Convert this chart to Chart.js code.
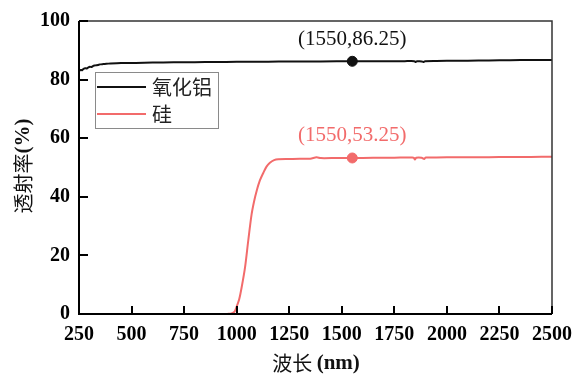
<!DOCTYPE html>
<html><head><meta charset="utf-8">
<script src="https://cdn.jsdelivr.net/npm/chart.js@4/dist/chart.umd.min.js"></script>
<style>html,body{margin:0;padding:0;background:#fff}#wrap{width:588px;height:389px}</style>
</head><body><div id="wrap"><canvas id="c" width="588" height="389"></canvas></div>
<script>
// ---- data ----
const seriesNames = ['氧化铝', '硅'];
const aluminaWavelength = [250,258,265,272,280,288,295,302,310,318,325,332,340,350,365,380,400,430,470,520,600,700,800,900,1000,1100,1200,1300,1400,1550,1700,1800,1845,1852,1858,1866,1880,1888,1896,1950,2050,2150,2250,2350,2450,2500];
const aluminaValues     = [83.0,83.3,83.2,83.7,83.9,83.8,84.2,84.4,84.3,84.7,84.8,84.9,85.0,85.2,85.3,85.4,85.5,85.6,85.65,85.7,85.8,85.9,85.95,86.0,86.05,86.1,86.15,86.2,86.2,86.25,86.3,86.3,86.3,86.0,86.3,86.25,86.2,86.0,86.3,86.35,86.45,86.5,86.6,86.65,86.7,86.7];
const siliconWavelength = [955,975,990,1000,1012,1024,1040,1055,1071,1083,1095,1110,1127,1142,1158,1178,1198,1250,1300,1350,1380,1400,1480,1550,1650,1750,1835,1843,1848,1854,1880,1892,1898,1906,1950,2050,2150,2250,2350,2450,2500];
const siliconValues     = [0,0.2,0.8,2.5,5.0,9.2,16.0,25.0,34.0,38.5,42.0,45.5,48.2,50.3,51.6,52.5,52.8,52.9,53.0,53.0,53.5,53.2,53.25,53.25,53.3,53.35,53.4,53.3,52.7,53.3,53.3,52.9,53.4,53.4,53.45,53.5,53.5,53.55,53.6,53.65,53.7];
const markedWavelength = [1550, 1550];
const markedValues = [86.25, 53.25];
const markedLabels = ['(1550,86.25)', '(1550,53.25)'];
const xTicks = [250,500,750,1000,1250,1500,1750,2000,2250,2500];
const yTicks = [0,20,40,60,80,100];

const BLACK = '#111111';
const RED = '#f26b6b';
const serif = "'Liberation Serif','Times New Roman',serif";
const cjk = "'Noto Sans CJK SC','Noto Sans CJK JP',sans-serif";

const toXY = (xs, ys) => xs.map((x, i) => ({x: x, y: ys[i]}));

const framePlugin = {
  id: 'frame',
  afterDraw(chart) {
    const ctx = chart.ctx, a = chart.chartArea;
    const xs = chart.scales.x, ys = chart.scales.y;
    ctx.save();
    // frame
    ctx.lineWidth = 2; ctx.strokeStyle = '#000';
    ctx.beginPath(); ctx.moveTo(a.left, a.top); ctx.lineTo(a.left, a.bottom); ctx.lineTo(a.right, a.bottom); ctx.stroke();
    ctx.lineWidth = 1.5; ctx.strokeStyle = '#333';
    ctx.beginPath(); ctx.moveTo(a.left, a.top); ctx.lineTo(a.right, a.top); ctx.lineTo(a.right, a.bottom); ctx.stroke();
    // inward tick marks
    ctx.fillStyle = '#000';
    for (const v of xTicks) {
      const px = Math.round(xs.getPixelForValue(v));
      ctx.fillRect(px - 1, a.bottom - 8, 2, 8);
    }
    for (const v of yTicks) {
      const py = Math.round(ys.getPixelForValue(v));
      ctx.fillRect(a.left, py - 1, 9, 2);
    }

    // point annotations
    ctx.textAlign = 'center'; ctx.textBaseline = 'middle';
    ctx.font = '21px ' + serif;
    const colors = [BLACK, RED];
    markedLabels.forEach((t, i) => {
      ctx.fillStyle = colors[i];
      ctx.fillText(t, xs.getPixelForValue(markedWavelength[i]), ys.getPixelForValue(markedValues[i]) - 22);
    });

    // legend
    const lx = 95, ly = 72, lw = 123, lh = 56;
    ctx.fillStyle = '#fff'; ctx.fillRect(lx, ly, lw, lh);
    ctx.strokeStyle = '#8a8a8a'; ctx.lineWidth = 1;
    ctx.strokeRect(lx + 0.5, ly + 0.5, lw, lh);
    const ds = chart.data.datasets;
    [0, 1].forEach(i => {
      const y = ly + 15 + i * 27;
      ctx.strokeStyle = ds[i].borderColor; ctx.lineWidth = ds[i].borderWidth;
      ctx.beginPath(); ctx.moveTo(lx + 2, y); ctx.lineTo(lx + 51, y); ctx.stroke();
      ctx.fillStyle = '#222'; ctx.textAlign = 'left'; ctx.textBaseline = 'middle';
      ctx.font = '20px ' + cjk;
      ctx.fillText(ds[i].label, lx + 57, y);
    });

    // x axis title: 波长 (nm)
    ctx.fillStyle = '#111'; ctx.textBaseline = 'middle'; ctx.textAlign = 'left';
    ctx.font = '20px ' + cjk;
    const p1 = '波长 ';
    const w1 = ctx.measureText(p1).width;
    ctx.font = 'bold 21px ' + serif;
    const w2 = ctx.measureText('(nm)').width;
    let sx = 316 - (w1 + w2) / 2;
    ctx.font = '20px ' + cjk; ctx.fillText(p1, sx, 363);
    ctx.font = 'bold 21px ' + serif; ctx.fillText('(nm)', sx + w1, 364);

    // y axis title: 透射率(%)
    ctx.translate(23, 166); ctx.rotate(-Math.PI / 2);
    ctx.font = '20px ' + cjk;
    const q1 = '透射率'; const v1 = ctx.measureText(q1).width;
    ctx.font = 'bold 21px ' + serif;
    const v2 = ctx.measureText('(%)').width;
    let sy = -(v1 + v2) / 2;
    ctx.font = '20px ' + cjk; ctx.fillText(q1, sy, 0);
    ctx.font = 'bold 21px ' + serif; ctx.fillText('(%)', sy + v1, 1);
    ctx.restore();
  }
};

new Chart(document.getElementById('c'), {
  type: 'line',
  data: {
    datasets: [
      {label: seriesNames[0], data: toXY(aluminaWavelength, aluminaValues), borderColor: BLACK, borderWidth: 2, pointRadius: 0, tension: 0.2, order: 2},
      {label: seriesNames[1], data: toXY(siliconWavelength, siliconValues), borderColor: RED, borderWidth: 2, pointRadius: 0, tension: 0.3, order: 2},
      {label: 'marks', type: 'scatter', data: toXY(markedWavelength, markedValues), pointRadius: 5, pointBackgroundColor: [BLACK, RED], pointBorderColor: [BLACK, RED], showLine: false, order: 1}
    ]
  },
  options: {
    responsive: false, animation: false,
    layout: {padding: {left: 0, top: 18, right: 36, bottom: 0}},
    plugins: {legend: {display: false}, tooltip: {enabled: false}},
    scales: {
      x: {type: 'linear', min: 250, max: 2500,
        afterBuildTicks: s => { s.ticks = xTicks.map(v => ({value: v})); },
        afterFit: s => { s.height = 75; },
        grid: {display: false, drawTicks: false}, border: {display: false},
        ticks: {padding: 9, color: '#000', font: {family: serif, size: 20, weight: 'bold'}, maxRotation: 0, autoSkip: false, callback: v => String(v)}
      },
      y: {min: 0, max: 100,
        afterBuildTicks: s => { s.ticks = yTicks.map(v => ({value: v})); },
        afterFit: s => { s.width = 79; },
        grid: {display: false, drawTicks: false}, border: {display: false},
        ticks: {padding: 9, color: '#000', font: {family: serif, size: 20, weight: 'bold'}, callback: v => String(v)}
      }
    }
  },
  plugins: [framePlugin]
});
</script></body></html>
